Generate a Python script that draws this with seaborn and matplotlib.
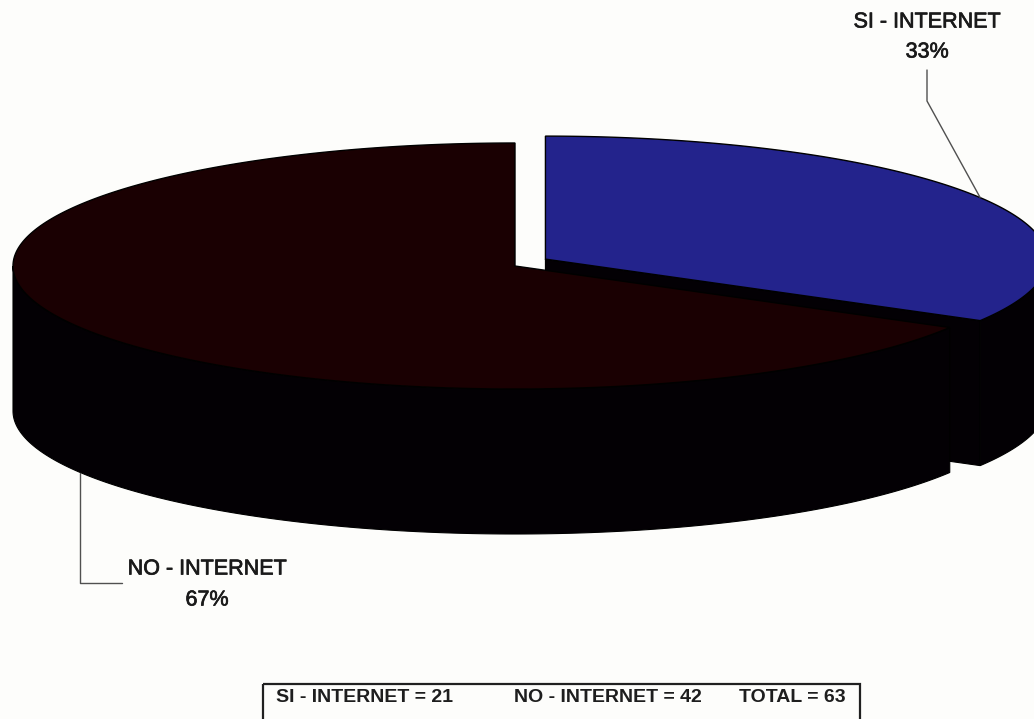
import numpy as np
import matplotlib
matplotlib.use("Agg")
import matplotlib.pyplot as plt
import matplotlib.patheffects as pe
import seaborn as sns

# Survey counts: internet access yes / no
categories = ["SI - INTERNET", "NO - INTERNET"]
counts = [21, 42]
total = sum(counts)
summary_labels = [f"SI - INTERNET = {counts[0]}", f"NO - INTERNET = {counts[1]}", f"TOTAL = {total}"]

sns.set_theme(style="white")
plt.rcParams["font.family"] = ["Liberation Sans", "DejaVu Sans"]

top_colors = sns.color_palette(["#23238c", "#1a0002"])
side_color = "#030004"
bg = "#fdfdfb"

W, H = 1034, 719
fig = plt.figure(figsize=(W / 100, H / 100), dpi=100, facecolor=bg)
ax = fig.add_axes([0, 0, 1, 1])
ax.set_xlim(0, W)
ax.set_ylim(H, 0)
ax.axis("off")
ax.set_facecolor(bg)

# 3D pie geometry (screen units, y downwards)
cx, cy = 515.0, 266.0
a, b = 502.0, 123.0
depth = 145.0
explode = [0.07, 0.0]


def rim(theta, ox, oy, dz=0.0):
    t = np.deg2rad(theta)
    return ox + a * np.sin(t), oy - b * np.cos(t) + dz


# slice angles, clockwise from 12 o'clock
fracs = np.array(counts) / total
ends = np.cumsum(fracs) * 360.0
starts = np.concatenate([[0.0], ends[:-1]])
mids = (starts + ends) / 2

centers = []
for i in range(len(counts)):
    t = np.deg2rad(mids[i])
    centers.append((cx + explode[i] * a * np.sin(t), cy - explode[i] * b * np.cos(t) * 1.6))


def draw_slice(i):
    ox, oy = centers[i]
    t1, t2 = starts[i], ends[i]
    col = top_colors[i]
    # radial face at the slice end when it faces the viewer
    if 90 < t2 < 270:
        xe, ye = rim(t2, ox, oy)
        ax.fill([ox, xe, xe, ox], [oy, ye, ye + depth, oy + depth],
                color=side_color, ec="black", lw=0.8, zorder=2 + i * 3)
    # outer wall (front half only)
    v1, v2 = max(t1, 90.0), min(t2, 270.0)
    if v2 > v1:
        th = np.linspace(v1, v2, 200)
        xt, yt = rim(th, ox, oy)
        xb, yb = rim(th[::-1], ox, oy, depth)
        ax.fill(np.concatenate([xt, xb]), np.concatenate([yt, yb]),
                color=side_color, ec="black", lw=0.8, zorder=3 + i * 3)
    # top face
    th = np.linspace(t1, t2, 300)
    xt, yt = rim(th, ox, oy)
    ax.fill(np.concatenate([[ox], xt, [ox]]), np.concatenate([[oy], yt, [oy]]),
            color=col, ec="black", lw=1.0, zorder=4 + i * 3)


for i in range(len(counts)):
    draw_slice(i)

# labels with leader lines
heavy = [pe.withStroke(linewidth=0.5, foreground="#1a1a1a")]
txt_kw = dict(ha="center", va="center", fontsize=15.5, color="#1a1a1a", zorder=20,
              path_effects=heavy)
line_kw = dict(color="#505050", lw=1.0, zorder=19)

# SI slice: anchor on top rim at mid angle
x0, y0 = rim(mids[0], *centers[0])
ax.plot([x0, 927, 927], [y0, 101, 70], **line_kw)
ax.text(927, 22, categories[0], **txt_kw)
ax.text(927, 52, f"{fracs[0] * 100:.0f}%", **txt_kw)

# NO slice: anchor on bottom rim at mid angle
x1, y1 = rim(mids[1], *centers[1], depth)
ax.plot([x1, x1, 122], [y1, 583, 583], **line_kw)
ax.text(207, 569, categories[1], **txt_kw)
ax.text(207, 600, f"{fracs[1] * 100:.0f}%", **txt_kw)

# summary box at the bottom
ax.add_patch(plt.Rectangle((263, 684), 597, 60, fill=False, ec="#202020", lw=1.6, zorder=20))
sum_x = [364, 608, 792]
for x, s in zip(sum_x, summary_labels):
    ax.text(x, 697, s, ha="center", va="center", fontsize=14, fontweight="bold",
            color="#1e1e1e", zorder=21)

fig.savefig("out.png", dpi=100, facecolor=bg)
